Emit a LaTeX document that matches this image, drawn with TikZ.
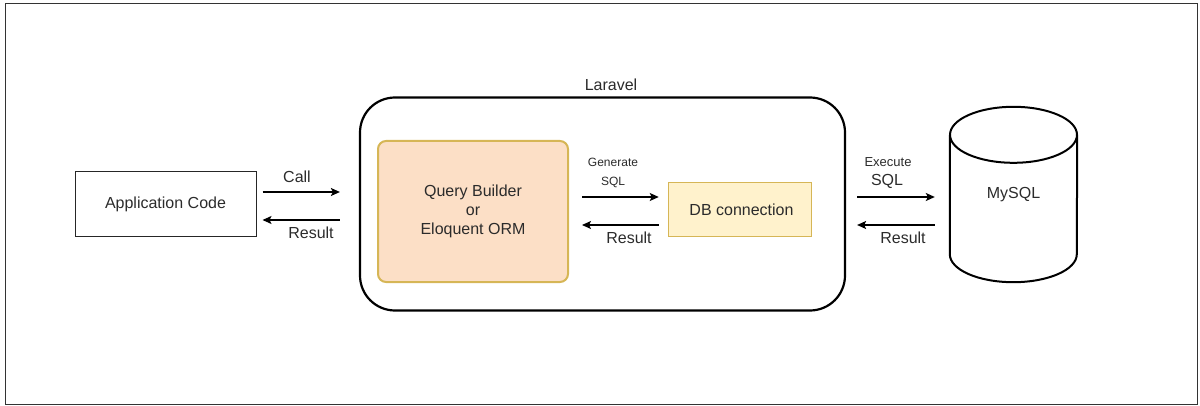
\documentclass[tikz,border=0pt]{standalone}
\usepackage{fontspec}
\setmainfont{Liberation Sans}
\usetikzlibrary{arrows.meta,calc}
\definecolor{qbfill}{HTML}{FCDFC6}
\definecolor{dbfill}{HTML}{FFF2CC}
\definecolor{goldline}{HTML}{D6B656}
\definecolor{inkgray}{HTML}{2B2B2B}
\tikzset{
  txt/.style={font=\fontsize{16}{19}\selectfont, align=center, inner sep=0pt, text=inkgray},
  small/.style={font=\fontsize{12}{14}\selectfont, inner sep=0pt, text=inkgray},
  flow/.style={line width=1.4pt, -{Stealth[length=9pt,width=8pt,inset=2pt]}},
  appbox/.style={draw=black!85, line width=1pt, minimum width=181pt, minimum height=64pt, txt},
  qbbox/.style={draw=goldline, fill=qbfill, line width=2pt, rounded corners=8pt, minimum width=190pt, minimum height=141pt, txt},
  dbbox/.style={draw=goldline, fill=dbfill, line width=1pt, minimum width=142.5pt, minimum height=53pt, txt},
  dbline/.style={line width=2pt},
}
\begin{document}
\begin{tikzpicture}[x=1pt,y=1pt]
  \useasboundingbox (0,0) rectangle (1200,405);
  \draw[line width=1pt, black!80] (5,1) rectangle (1197,401);

  \node[appbox] (app) at (165.5,201) {Application Code};
  \node[draw, line width=2.2pt, rounded corners=35pt, minimum width=485pt, minimum height=213pt] (lar) at (602.5,201) {};
  \node[txt] (larname) at (611,320) {Laravel};
  \node[qbbox] (qb) at (473,193.5) {Query Builder\\or\\Eloquent ORM};
  \node[dbbox] (db) at (740,195.5) {\hspace{3pt}DB connection};
  \node[txt, minimum width=127pt, minimum height=175pt] (mysql) at (1013.5,210.5) {MySQL};

  \draw[dbline] ($(mysql.north west)+(0,-28)$) -- ($(mysql.south west)+(0,28)$)
    arc[start angle=180, end angle=360, x radius=63.5, y radius=28]
    -- ($(mysql.north east)+(0,-28)$);
  \draw[dbline] ($(mysql.north)+(0,-28)$) ellipse[x radius=63.5, y radius=28];

  \draw[flow] ($(app.east)+(6,12)$) -- ($(lar.west)+(-19,12)$);
  \draw[flow] ($(lar.west)+(-19,-16)$) -- ($(app.east)+(6,-16)$);
  \node[txt] (calllbl) at (297,228) {Call};
  \node[txt] (res1) at (311,172) {Result};

  \draw[flow] ($(qb.east)+(13,14.5)$) -- ($(db.west)+(-9.5,12.5)$);
  \draw[flow] ($(db.west)+(-9.5,-15.5)$) -- ($(qb.east)+(13,-13.5)$);
  \node[small] (gen) at (613,243) {Generate};
  \node[small] (gensql) at (613,223) {SQL};
  \node[txt] (res2) at (629,167) {Result};

  \draw[flow] ($(lar.east)+(11,7)$) -- ($(mysql.west)+(-15,-2.5)$);
  \draw[flow] ($(mysql.west)+(-15,-30.5)$) -- ($(lar.east)+(11,-21)$);
  \node[small, font=\fontsize{13}{15}\selectfont] (exe) at (888,243) {Execute};
  \node[txt] (exesql) at (887,224) {SQL};
  \node[txt] (res3) at (903,167) {Result};
\end{tikzpicture}
\end{document}
